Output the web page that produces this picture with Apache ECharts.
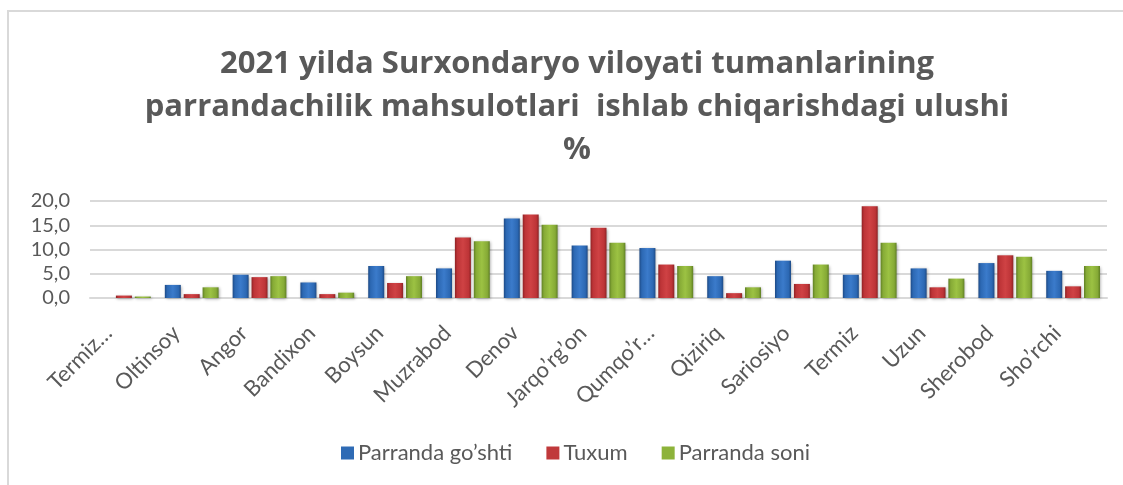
<!DOCTYPE html>
<html>
<head>
<meta charset="utf-8">
<script src="https://cdn.jsdelivr.net/npm/echarts@6/dist/echarts.min.js"></script>
<style>html,body{margin:0;padding:0;background:#fff}#c{width:1123px;height:485px}</style>
</head>
<body>
<div id="c"></div>
<script>
const categories = ["Termiz…","Oltinsoy","Angor","Bandixon","Boysun","Muzrabod","Denov","Jarqo’rg’on","Qumqo’r…","Qiziriq","Sariosiyo","Termiz","Uzun","Sherobod","Sho’rchi"];
const seriesNames = ["Parranda go’shti","Tuxum","Parranda soni"];
const goshti = [0.0, 2.7, 4.8, 3.2, 6.6, 6.1, 16.4, 10.8, 10.3, 4.5, 7.7, 4.8, 6.1, 7.2, 5.6];
const tuxum  = [0.5, 0.8, 4.3, 0.8, 3.1, 12.5, 17.2, 14.5, 6.9, 1.0, 2.9, 18.9, 2.2, 8.8, 2.4];
const soni   = [0.3, 2.2, 4.5, 1.1, 4.5, 11.7, 15.1, 11.4, 6.6, 2.2, 6.9, 11.4, 4.0, 8.5, 6.6];
const yTicks = [0, 5, 10, 15, 20];

const FONT = 'Lato';
const TXT = '#595959';
function grad(dark, mid, light) {
  return new echarts.graphic.LinearGradient(0, 0, 1, 0, [
    {offset: 0, color: dark},
    {offset: 0.15, color: mid},
    {offset: 0.5, color: light},
    {offset: 0.85, color: mid},
    {offset: 1, color: dark}
  ]);
}
const styles = [
  {fill: grad('#1d4a86', '#2c68b3', '#3b7bcb'), legend: '#2f6bb5'},
  {fill: grad('#8e2224', '#bd3437', '#cf4244'), legend: '#c0393b'},
  {fill: grad('#5f7f24', '#86aa36', '#9cc243'), legend: '#8db33a'}
];
const dataSets = [goshti, tuxum, soni];

const chart = echarts.init(document.getElementById('c'), null, {renderer: 'canvas'});
chart.setOption({
  animation: false,
  backgroundColor: '#fff',
  title: {
    text: '2021 yilda Surxondaryo viloyati tumanlarining\nparrandachilik mahsulotlari  ishlab chiqarishdagi ulushi\n%',
    left: 572, top: 38, textAlign: 'center',
    textStyle: {fontFamily: 'Open Sans', fontWeight: 'bold', fontSize: 31, color: TXT, lineHeight: 43}
  },
  legend: {
    data: seriesNames.map((n, i) => ({name: n, itemStyle: {color: styles[i].legend}})),
    left: 336, top: 437, itemWidth: 13, itemHeight: 13, itemGap: 34, icon: 'rect',
    textStyle: {fontFamily: FONT, fontSize: 22, color: TXT, padding: [0, 0, 0, -1]}
  },
  grid: {left: 90, right: 16, top: 201, bottom: 187, containLabel: false},
  xAxis: {
    type: 'category', data: categories,
    axisLine: {lineStyle: {color: '#d9d9d9', width: 2}},
    axisTick: {show: false},
    axisLabel: {rotate: 45, interval: 0, fontFamily: FONT, fontSize: 22, color: TXT, margin: 16,
      padding: [0, 22, 0, 0]}
  },
  yAxis: {
    type: 'value', min: 0, max: 20, interval: 5,
    axisLine: {show: false}, axisTick: {show: false},
    splitLine: {lineStyle: {color: '#d9d9d9', width: 2}},
    axisLabel: {fontFamily: FONT, fontSize: 20, color: TXT, margin: 20,
      formatter: v => yTicks.includes(v) ? v.toFixed(1).replace('.', ',') : ''}
  },
  series: dataSets.map((d, i) => ({
    name: seriesNames[i], type: 'bar', data: d,
    barWidth: 16, barGap: '18%',
    itemStyle: {color: styles[i].fill,
      shadowColor: 'rgba(0,0,0,0.35)', shadowBlur: 3, shadowOffsetX: 1, shadowOffsetY: 1}
  })),
  graphic: [
    {type: 'rect', shape: {x: 7, y: 10, width: 1116, height: 2}, style: {fill: '#d9d9d9'}, silent: true},
    {type: 'rect', shape: {x: 7, y: 10, width: 2, height: 475}, style: {fill: '#d9d9d9'}, silent: true}
  ]
});
</script>
</body>
</html>
